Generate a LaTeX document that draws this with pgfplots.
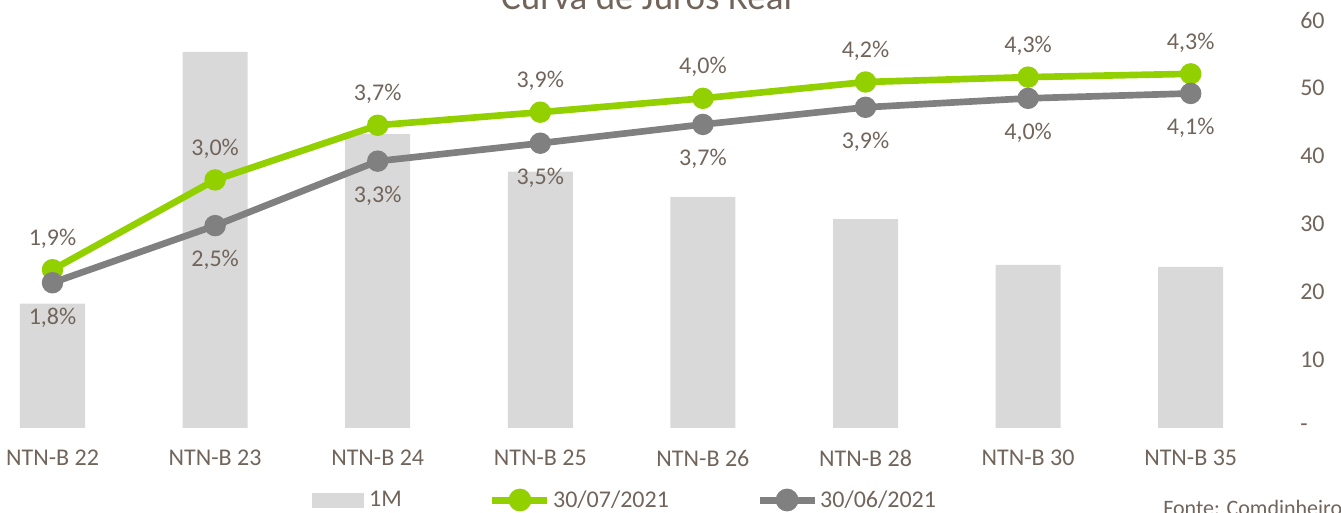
\documentclass[border=0pt]{standalone}
\usepackage{pgfplots}
\pgfplotsset{compat=1.18}
\usepackage{fontspec}
\setmainfont{Carlito}
\definecolor{txt}{RGB}{113,101,91}
\definecolor{grn}{RGB}{146,208,0}
\definecolor{gry}{RGB}{128,128,128}
\definecolor{barc}{RGB}{217,217,217}
\newcommand{\lblfont}{\fontsize{18}{21.6}\selectfont}
\begin{document}
\begin{tikzpicture}
\pgfplotsset{
  base/.style={at={(-21.6pt,63.75pt)}, anchor=south west, scale only axis,
    width=975.6pt, height=306pt, xmin=-0.5, xmax=7.5, clip=false,
    axis line style={draw=none}, major tick length=0pt,
    font=\lblfont, /pgf/number format/assume math mode=true}
}
\begin{axis}[base, ymin=0, ymax=60,
  axis y line*=right, axis x line*=bottom,
  ytick={0,10,...,60}, yticklabels={-,10,20,30,40,50,60},
  xtick={0,...,7},
  xticklabels={NTN-B 22,NTN-B 23,NTN-B 24,NTN-B 25,NTN-B 26,NTN-B 28,NTN-B 30,NTN-B 35},
  yticklabel style={anchor=west, inner sep=0pt, xshift=21pt, text=txt, font=\lblfont},
  xticklabel style={anchor=north, inner sep=0pt, yshift=-16.5pt, text=txt, font=\lblfont}]
\addplot[ybar, bar width=48.75pt, fill=barc, draw=none] coordinates
  {(0,18.3) (1,55.3) (2,43.2) (3,37.7) (4,34.0) (5,30.7) (6,24.0) (7,23.7)};
\end{axis}
\begin{axis}[base, ymin=0, ymax=5, hide axis,
  legend columns=3, legend cell align=left,
  legend style={at={(0.262,-0.1765)}, anchor=west, draw=none, fill=none,
    inner sep=0pt, outer sep=0pt, font=\lblfont,
    nodes={inner sep=0pt, text=txt},
    /tikz/every odd column/.append style={column sep=4.2pt},
    /tikz/every even column/.append style={column sep=68pt}}]
\addlegendimage{legend image code/.code={\fill[barc] (0pt,-5.25pt) rectangle (38.25pt,5.25pt);}}
\addlegendentry{1M}
\addplot[grn, line width=5pt, mark=*, mark size=5.5pt, point meta=explicit,
  nodes near coords={\pgfmathprintnumber[fixed, fixed zerofill, precision=1, use comma]{\pgfplotspointmeta}\%},
  every node near coord/.append style={anchor=center, yshift=23.25pt, text=txt, inner sep=0pt, font=\lblfont},
  legend image code/.code={\path[draw=none, fill=none] (0pt,-5.25pt) rectangle (41.25pt,5.25pt);
    \draw[overlay, grn, line width=5.25pt] (0pt,0pt) -- (41.25pt,0pt);
    \fill[overlay, grn] (20.6pt,0pt) circle (6pt);}]
  table[meta=m] {
x y m
0 1.94 1.9
1 3.04 3.0
2 3.71 3.7
3 3.87 3.9
4 4.04 4.0
5 4.24 4.2
6 4.30 4.3
7 4.34 4.3
};
\addlegendentry{30/07/2021}
\addplot[gry, line width=5pt, mark=*, mark size=5.5pt, point meta=explicit,
  nodes near coords={\pgfmathprintnumber[fixed, fixed zerofill, precision=1, use comma]{\pgfplotspointmeta}\%},
  every node near coord/.append style={anchor=center, yshift=-26pt, text=txt, inner sep=0pt, font=\lblfont},
  legend image code/.code={\path[draw=none, fill=none] (0pt,-5.25pt) rectangle (41.25pt,5.25pt);
    \draw[overlay, gry, line width=5.25pt] (0pt,0pt) -- (41.25pt,0pt);
    \fill[overlay, gry] (20.6pt,0pt) circle (6pt);}]
  table[meta=m] {
x y m
0 1.78 1.8
1 2.48 2.5
2 3.27 3.3
3 3.49 3.5
4 3.72 3.7
5 3.93 3.9
6 4.04 4.0
7 4.10 4.1
};
\addlegendentry{30/06/2021}
\end{axis}
\node[anchor=base, font=\fontsize{27.75}{33}\selectfont, text=txt, inner sep=0pt] at (484.9pt,377.25pt) {Curva de Juros Real};
\node[anchor=base west, font=\fontsize{16.5}{20}\selectfont, text=txt, inner sep=0pt] at (872.25pt,-2.25pt) {Fonte: Comdinheiro};
\pgfresetboundingbox
\path[use as bounding box] (0pt,0pt) rectangle (1005.75pt,384.75pt);
\end{tikzpicture}
\end{document}
